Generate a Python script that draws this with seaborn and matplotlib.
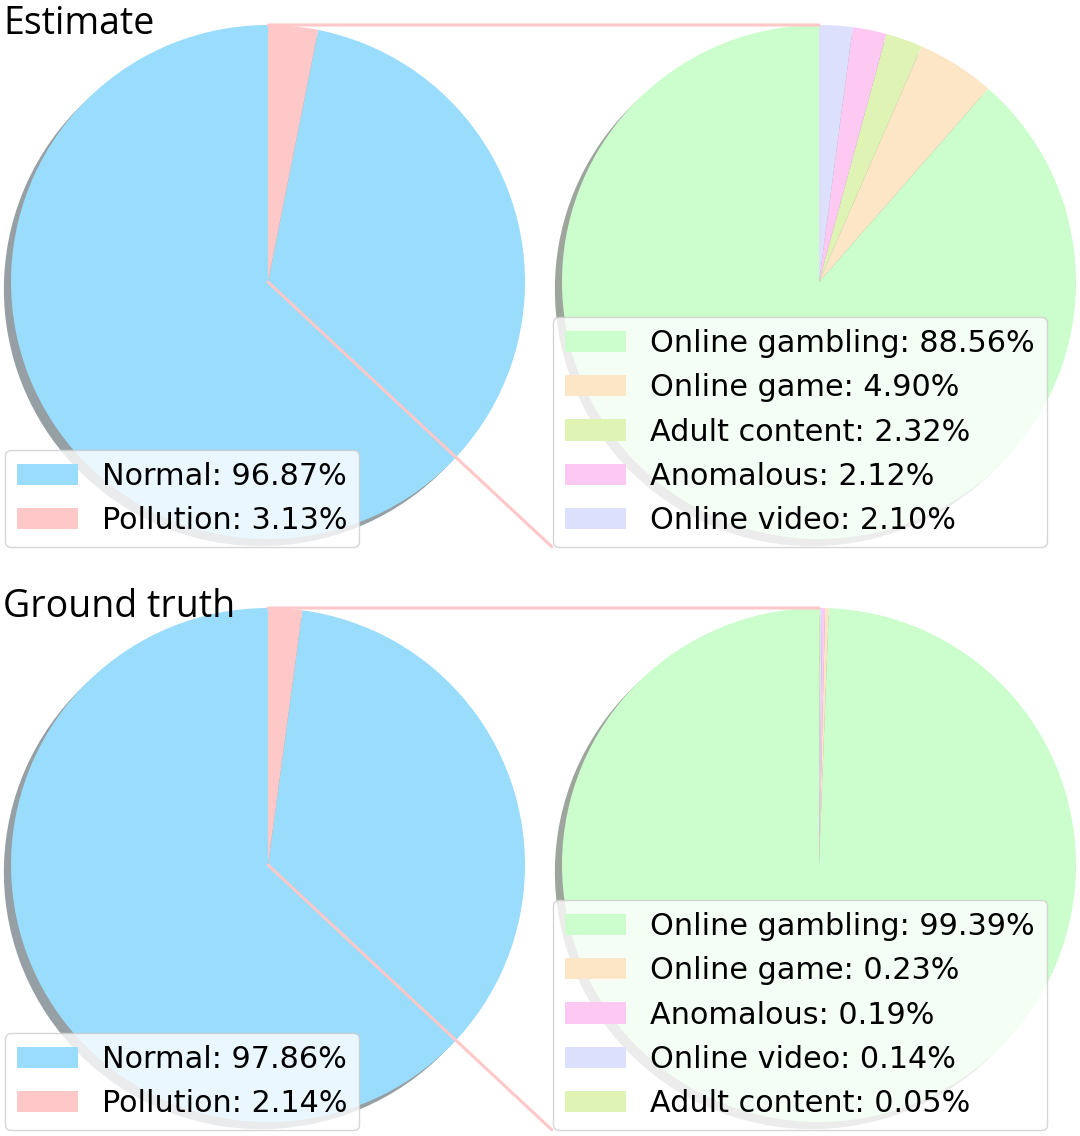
import matplotlib
matplotlib.use('Agg')
import matplotlib.pyplot as plt
import seaborn as sns
from matplotlib.patches import ConnectionPatch

# data
main_labels = ['Normal', 'Pollution']
est_main_vals = [96.87, 3.13]
gt_main_vals = [97.86, 2.14]

est_sub_labels = ['Online gambling', 'Online game', 'Adult content', 'Anomalous', 'Online video']
est_sub_vals = [88.56, 4.90, 2.32, 2.12, 2.10]
gt_sub_labels = ['Online gambling', 'Online game', 'Anomalous', 'Online video', 'Adult content']
gt_sub_vals = [99.39, 0.23, 0.19, 0.14, 0.05]

row_titles = ['Estimate', 'Ground truth']

colors = {
    'Normal': '#9adcfb',
    'Pollution': '#ffc8c8',
    'Online gambling': '#ccfdcc',
    'Online game': '#fde6c6',
    'Adult content': '#dff3b4',
    'Anomalous': '#fdc8f2',
    'Online video': '#dce0fc',
}

sns.set_theme(style='white')
plt.rcParams['font.family'] = ['DejaVu Sans']
plt.rcParams['text.color'] = 'black'

W, H = 1080, 1136
fig = plt.figure(figsize=(W / 100, H / 100), dpi=100)

R = 257.0    # pie radius in pixels
LIM = 1.1    # axes half-range in data units


def pie_axes(cx, cy):
    # cx, cy: pie centre in pixels from top-left
    half = LIM * R
    ax = fig.add_axes([(cx - half) / W, 1 - (cy + half) / H, 2 * half / W, 2 * half / H])
    ax.set_xlim(-LIM, LIM)
    ax.set_ylim(-LIM, LIM)
    ax.set_aspect('equal')
    ax.axis('off')
    return ax


rows = [
    (est_main_vals, est_sub_labels, est_sub_vals, 282),
    (gt_main_vals, gt_sub_labels, gt_sub_vals, 865),
]

for i, (mvals, slabels, svals, cy) in enumerate(rows):
    axL = pie_axes(268, cy)
    axR = pie_axes(819, cy)

    wl, _ = axL.pie(mvals, colors=[colors[l] for l in main_labels], startangle=90,
                    shadow=True, radius=1, frame=True,
                    wedgeprops=dict(linewidth=0))
    wr, _ = axR.pie(svals, colors=[colors[l] for l in slabels], startangle=90,
                    shadow=True, radius=1, frame=True,
                    wedgeprops=dict(linewidth=0))
    for ax in (axL, axR):
        ax.set_xlim(-LIM, LIM)
        ax.set_ylim(-LIM, LIM)
        ax.axis('off')
        for p in ax.patches:
            p.set_clip_on(False)

    leg_l = fig.legend(wl, [f'{l}: {v:.2f}%' for l, v in zip(main_labels, mvals)],
                       loc='lower left', bbox_to_anchor=(5 / W, 1 - (cy + 265) / H),
                       borderaxespad=0, fontsize=21.8, labelcolor='black')
    leg_r = fig.legend(wr, [f'{l}: {v:.2f}%' for l, v in zip(slabels, svals)],
                       loc='lower right', bbox_to_anchor=(1047 / W, 1 - (cy + 265) / H),
                       borderaxespad=0, fontsize=21.8, labelcolor='black')

    # connector lines between the pies
    line_kw = dict(color='#ffc8c8', linewidth=2.2, zorder=3)
    con1 = ConnectionPatch(xyA=(0, 1), coordsA=axL.transData,
                           xyB=(0, 1), coordsB=axR.transData, **line_kw)
    con2 = ConnectionPatch(xyA=(0, 0), coordsA=axL.transData,
                           xyB=(-1.04, -1.03), coordsB=axR.transData, **line_kw)
    fig.add_artist(con1)
    fig.add_artist(con2)

    fig.text(3 / W, 1 - (cy - 248) / H, row_titles[i], fontsize=27, color='black',
             family=['Open Sans', 'DejaVu Sans'], va='baseline', ha='left')

fig.savefig('out.png', dpi=100)
